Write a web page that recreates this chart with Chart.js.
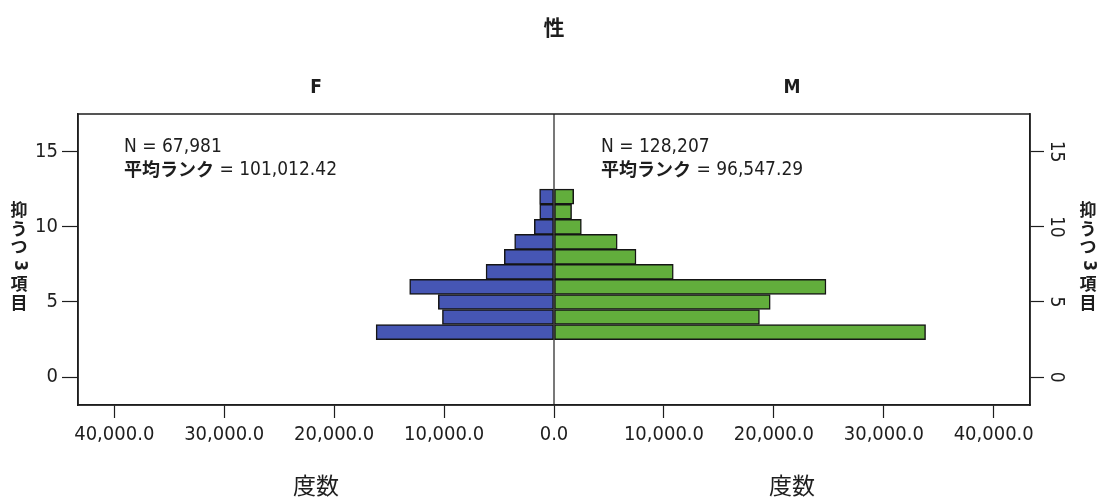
<!DOCTYPE html>
<html>
<head>
<meta charset="utf-8">
<script src="https://cdn.jsdelivr.net/npm/chart.js@4.4.1/dist/chart.umd.min.js"></script>
<style>
  html, body { margin: 0; padding: 0; background: #ffffff; }
  #wrap { width: 1107px; height: 500px; position: relative; }
</style>
</head>
<body>
<div id="wrap"><canvas id="c" width="1107" height="500"></canvas></div>
<script>
// ---- data ----
const categories = [3, 4, 5, 6, 7, 8, 9, 10, 11, 12];
const femaleCounts = [16180, 10150, 10520, 13130, 6180, 4520, 3580, 1790, 1300, 1310];
const maleCounts = [33800, 18690, 19670, 24740, 10850, 7460, 5750, 2490, 1600, 1790];
const xTickValues = [-40000, -30000, -20000, -10000, 0, 10000, 20000, 30000, 40000];
const yTickValues = [0, 5, 10, 15];
const chartTitle = '性';
const panelLabels = ['F', 'M'];
const nLabels = ['N = 67,981', 'N = 128,207'];
const rankLabelJa = '平均ランク';
const rankValues = ['= 101,012.42', '= 96,547.29'];
const yAxisTitle = ['抑', 'う', 'つ', '3', '項', '目'];
const xAxisTitle = '度数';

const COND = '"DejaVu Sans Condensed", "DejaVu Sans", sans-serif';
const CJK = '"Noto Sans CJK JP", "Noto Sans CJK SC", sans-serif';
const INK = '#1e1e1e';

function fmt(v) {
  return Math.abs(v).toLocaleString('en-US', { minimumFractionDigits: 1, maximumFractionDigits: 1 });
}

const overlay = {
  id: 'overlay',
  afterDraw(chart) {
    const ctx = chart.ctx;
    const a = chart.chartArea;
    const xs = chart.scales.x;
    const x0 = xs.getPixelForValue(0);
    ctx.save();
    // frame
    ctx.strokeStyle = INK;
    ctx.lineWidth = 1.5;
    ctx.strokeRect(a.left, a.top, a.right - a.left, a.bottom - a.top);
    // centre line
    ctx.beginPath();
    ctx.moveTo(x0, a.top);
    ctx.lineTo(x0, a.bottom);
    ctx.lineWidth = 1.2;
    ctx.stroke();

    ctx.fillStyle = INK;
    ctx.textAlign = 'center';
    ctx.textBaseline = 'middle';
    // main title
    ctx.font = 'bold 21px ' + CJK;
    ctx.fillText(chartTitle, x0, 27);
    // panel labels
    const cF = (a.left + x0) / 2, cM = (x0 + a.right) / 2;
    ctx.font = 'bold 19px ' + COND;
    ctx.fillText(panelLabels[0], cF, 88);
    ctx.fillText(panelLabels[1], cM, 88);
    // x axis titles
    ctx.font = '400 23px ' + CJK;
    ctx.fillText(xAxisTitle, cF, 485);
    ctx.fillText(xAxisTitle, cM, 485);

    // annotations
    const annX = [a.left + 46, x0 + 47];
    for (let i = 0; i < 2; i++) {
      ctx.textAlign = 'left';
      ctx.font = '19px ' + COND;
      ctx.fillText(nLabels[i], annX[i], a.top + 33);
      ctx.font = 'bold 18px ' + CJK;
      ctx.fillText(rankLabelJa, annX[i], a.top + 55);
      const w = ctx.measureText(rankLabelJa).width;
      ctx.font = '19px ' + COND;
      ctx.fillText(' ' + rankValues[i], annX[i] + w, a.top + 56);
    }

    // stacked y axis titles
    const titleX = [19, 1088];
    ctx.font = 'bold 17px ' + CJK;
    ctx.textAlign = 'center';
    for (let t = 0; t < 2; t++) {
      yAxisTitle.forEach((ch, k) => {
        const y = 210 + k * 18.5;
        if (/[0-9]/.test(ch)) {
          ctx.save();
          ctx.translate(titleX[t], y);
          ctx.rotate(Math.PI / 2);
          ctx.font = 'bold 17px ' + COND;
          ctx.fillText(ch, 0, 0);
          ctx.restore();
        } else {
          ctx.fillText(ch, titleX[t], y);
        }
      });
    }

    // right axis tick labels (rotated clockwise)
    const yr = chart.scales.yRight;
    ctx.font = '19px ' + COND;
    yTickValues.forEach(v => {
      const py = yr.getPixelForValue(v);
      ctx.save();
      ctx.translate(a.right + 26, py);
      ctx.rotate(Math.PI / 2);
      ctx.textAlign = 'center';
      ctx.textBaseline = 'middle';
      ctx.fillText(String(v), 0, 0);
      ctx.restore();
    });
    ctx.restore();
  }
};

const ctx = document.getElementById('c').getContext('2d');
new Chart(ctx, {
  type: 'bar',
  data: {
    datasets: [
      {
        label: 'F',
        data: categories.map((c, i) => ({ y: c, x: -femaleCounts[i] })),
        backgroundColor: '#4656b4',
        borderColor: '#151515',
        borderWidth: 1.5,
        borderSkipped: false,
        grouped: false,
        barPercentage: 1,
        categoryPercentage: 1
      },
      {
        label: 'M',
        data: categories.map((c, i) => ({ y: c, x: maleCounts[i] })),
        backgroundColor: '#62ae3c',
        borderColor: '#151515',
        borderWidth: 1.5,
        borderSkipped: false,
        grouped: false,
        barPercentage: 1,
        categoryPercentage: 1
      }
    ]
  },
  options: {
    indexAxis: 'y',
    responsive: false,
    animation: false,
    layout: { padding: { top: 114, left: 0, right: 0, bottom: 0 } },
    plugins: { legend: { display: false }, tooltip: { enabled: false }, title: { display: false } },
    scales: {
      x: {
        type: 'linear',
        position: 'bottom',
        min: -43300,
        max: 43300,
        afterBuildTicks: s => { s.ticks = xTickValues.map(v => ({ value: v })); },
        afterFit: s => { s.height = 95; },
        grid: { drawOnChartArea: false, tickLength: 13, tickColor: INK, tickWidth: 1.2 },
        border: { display: true, color: INK, width: 1.5 },
        ticks: {
          autoSkip: false, maxRotation: 0, minRotation: 0, padding: 5,
          color: INK, font: { family: COND, size: 20 },
          callback: v => fmt(v)
        }
      },
      y: {
        type: 'linear',
        position: 'left',
        offset: false,
        min: -1.85,
        max: 17.5,
        afterBuildTicks: s => { s.ticks = yTickValues.map(v => ({ value: v })); },
        afterFit: s => { s.width = 78; },
        grid: { offset: false, drawOnChartArea: false, tickLength: 16, tickColor: INK, tickWidth: 1.2 },
        border: { display: true, color: INK, width: 1.5 },
        ticks: { padding: 4, color: INK, font: { family: COND, size: 20 } }
      },
      yRight: {
        type: 'linear',
        position: 'right',
        offset: false,
        min: -1.85,
        max: 17.5,
        afterBuildTicks: s => { s.ticks = yTickValues.map(v => ({ value: v })); },
        afterFit: s => { s.width = 77; },
        grid: { offset: false, drawOnChartArea: false, tickLength: 14, tickColor: INK, tickWidth: 1.2 },
        border: { display: true, color: INK, width: 1.5 },
        ticks: { display: false }
      }
    }
  },
  plugins: [overlay]
});
</script>
</body>
</html>
